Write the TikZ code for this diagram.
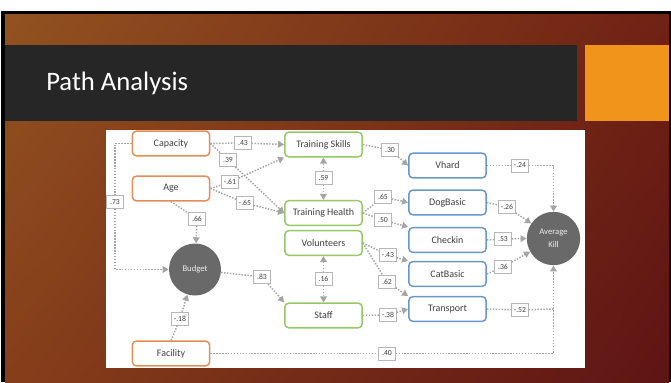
\documentclass[tikz,border=0pt]{standalone}
\usepackage{fontspec}
\setmainfont{Carlito}
\usetikzlibrary{arrows.meta,shadings}

\definecolor{slideTL}{RGB}{146,82,32}
\definecolor{slideTR}{RGB}{112,34,20}
\definecolor{slideBL}{RGB}{134,62,26}
\definecolor{slideBR}{RGB}{94,20,20}
\definecolor{titlegray}{RGB}{38,38,38}
\definecolor{accent}{RGB}{240,149,26}
\definecolor{exoorange}{RGB}{228,142,86}
\definecolor{midgreen}{RGB}{150,200,100}
\definecolor{outblue}{RGB}{104,152,200}
\definecolor{latentgray}{RGB}{105,105,105}
\definecolor{linkgray}{RGB}{165,165,165}
\definecolor{textgray}{RGB}{64,64,64}

\tikzset{
  varbox/.style={draw, line width=1.1pt, rounded corners=3pt, fill=white,
    minimum width=58pt, minimum height=18.5pt, inner sep=1pt,
    text=textgray, font=\fontsize{7.5}{8.5}\selectfont},
  exo/.style={varbox, draw=exoorange},
  med/.style={varbox, draw=midgreen},
  outc/.style={varbox, draw=outblue},
  latent/.style={circle, fill=latentgray, inner sep=0pt,
    text=white!85!gray, font=\fontsize{6.5}{7.5}\selectfont, align=center},
  weight/.style={draw=linkgray!80, fill=white, line width=0.5pt,
    minimum width=12.5pt, minimum height=10pt, inner sep=1pt,
    text=textgray, font=\fontsize{5.8}{6.5}\selectfont},
  link/.style={draw=linkgray, line width=1.1pt, dash pattern=on 1.1pt off 1.1pt},
  tip/.style={link, -{Triangle[width=5pt,length=4.5pt]}}
}

\begin{document}
\begin{tikzpicture}[x=0.75pt,y=-0.75pt]

    % Slide background and frame
    \useasboundingbox (0,0) rectangle (671,382);
    \fill[white] (0,0) rectangle (671,382);
    \fill[black] (1,11) rectangle (671,382);
    \shade[upper left=slideTL, upper right=slideTR,
           lower left=slideBL, lower right=slideBR] (5,14) rectangle (669,382);

    % Title bar and the orange square beside it
    \fill[titlegray] (5,45) rectangle (577,121);
    \fill[accent] (585,45) rectangle (669,121);
    \node[anchor=base west, inner sep=0pt, text=white,
          font=\fontsize{20}{24}\selectfont] (title) at (46,90) {Path Analysis};

    % White panel holding the diagram
    \fill[white] (106,130) rectangle (585,368);

    % Exogenous variables (orange)
    \node[exo] (capacity) at (171,143.5) {Capacity};
    \node[exo] (age) at (171,188.5) {Age};
    \node[exo] (facility) at (171,353.5) {Facility};

    % Mediators (green)
    \node[med] (tskills) at (323.5,144.5) {Training Skills};
    \node[med] (thealth) at (323.5,213) {Training Health};
    \node[med] (volunteers) at (323.5,243) {Volunteers};
    \node[med] (staff) at (323.5,315.5) {Staff};

    % Outcome variables (blue)
    \node[outc] (vhard) at (447.5,165.5) {Vhard};
    \node[outc] (dogbasic) at (447.5,202.5) {DogBasic};
    \node[outc] (checkin) at (447.5,240) {Checkin};
    \node[outc] (catbasic) at (447.5,274) {CatBasic};
    \node[outc] (transport) at (447.5,309) {Transport};

    % Latent circles
    \node[latent, minimum size=39pt] (budget) at (195,269.5) {Budget};
    \node[latent, minimum size=40pt] (avgkill) at (553.5,238.5) {Average\\[2pt]Kill};

    % Path coefficients
    \node[weight] (w43) at (243,143) {.43};
    \node[weight] (w39) at (228,160) {.39};
    \node[weight] (wn61) at (230,182) {-.61};
    \node[weight] (wn65) at (245,203) {-.65};
    \node[weight] (w59) at (323.5,178) {.59};
    \node[weight] (w66) at (197,219) {.66};
    \node[weight] (w73) at (115,202) {.73};
    \node[weight] (w83) at (262,277) {.83};
    \node[weight] (w16) at (323.5,279) {.16};
    \node[weight] (wn18) at (180,319) {-.18};
    \node[weight] (w40) at (387,353.5) {.40};
    \node[weight] (w30) at (390,150) {.30};
    \node[weight] (wn24) at (520,165.5) {-.24};
    \node[weight] (w65) at (383,197) {.65};
    \node[weight] (w50) at (383,220) {.50};
    \node[weight] (wn26) at (507,207) {-.26};
    \node[weight] (w53) at (503,239) {.53};
    \node[weight] (wn43) at (388,255) {-.43};
    \node[weight] (w62) at (387,282) {.62};
    \node[weight] (w36) at (503,267) {.36};
    \node[weight] (wn38) at (388,315) {-.38};
    \node[weight] (wn52) at (520,310) {-.52};

    % Corner points of the elbow connectors
    \coordinate (capbend) at (w73 |- capacity.west);
    \coordinate (budbend) at (w73 |- budget.west);
    \coordinate (vhbend) at (avgkill |- vhard.east);
    \coordinate (trbend) at (avgkill |- transport.east);
    \coordinate (facbend) at (avgkill |- facility.east);

    % Capacity and Age to the training variables
    \draw[tip] (capacity.east) -- (w43) -- (tskills.west);
    \draw[tip] (capacity.east) -- (w39) -- (thealth.west);
    \draw[tip] (age.east) -- (wn61) -- (tskills.south west);
    \draw[tip] (age.east) -- (wn65) -- (thealth.west);
    \draw[tip] (w59) -- (tskills);
    \draw[tip] (w59) -- (thealth);

    % Paths into Budget
    \draw[tip] (age.south) -- (w66) -- (budget);
    \draw[tip] (capacity.west) -- (capbend) -- (w73) -- (budbend) -- (budget.west);
    \draw[tip] (facility.north) -- (wn18) -- (budget);

    % Budget to Staff, Volunteers with Staff
    \draw[tip] (budget) -- (w83) -- (staff.north west);
    \draw[tip] (w16) -- (volunteers);
    \draw[tip] (w16) -- (staff);

    % Mediators to outcomes
    \draw[tip] (tskills.east) -- (w30) -- (vhard.west);
    \draw[tip] (thealth.east) -- (w65) -- (dogbasic.west);
    \draw[tip] (thealth.east) -- (w50) -- (checkin.north west);
    \draw[tip] (volunteers.east) -- (wn43) -- (catbasic.north west);
    \draw[tip] (volunteers.east) -- (w62) -- (transport.north west);
    \draw[tip] (staff.east) -- (wn38) -- (transport.west);

    % Outcomes to Average Kill
    \draw[tip] (vhard.east) -- (wn24) -- (vhbend) -- (avgkill.north);
    \draw[tip] (dogbasic.east) -- (wn26) -- (avgkill);
    \draw[tip] (checkin.east) -- (w53) -- (avgkill.west);
    \draw[tip] (catbasic.east) -- (w36) -- (avgkill);
    \draw[link] (transport.east) -- (wn52) -- (trbend);
    \draw[tip] (facility.east) -- (w40) -- (facbend) -- (avgkill.south);

\end{tikzpicture}
\end{document}
